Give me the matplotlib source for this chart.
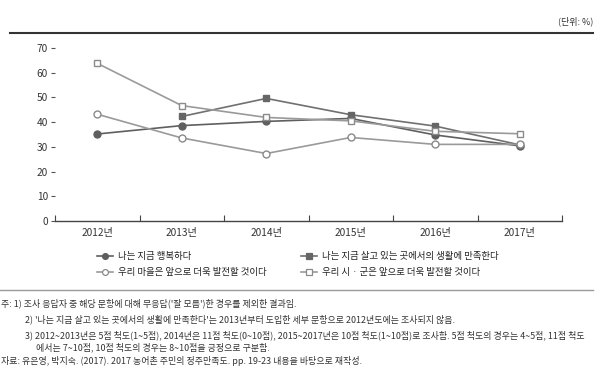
import numpy as np
import matplotlib.pyplot as plt
from matplotlib.lines import Line2D

plt.rcParams['font.family'] = ['Noto Sans CJK KR', 'DejaVu Sans']

years = ['2012년', '2013년', '2014년', '2015년', '2016년', '2017년']
happy = [35.2, 38.6, 40.3, 41.5, 34.8, 30.4]
satisfied = [np.nan, 42.3, 49.6, 43.0, 38.4, 30.8]
village = [43.2, 33.6, 27.3, 33.8, 31.0, 31.0]
city = [63.8, 46.7, 41.9, 40.5, 36.3, 35.3]

labels = ['나는 지금 행복하다', '나는 지금 살고 있는 곳에서의 생활에 만족한다',
          '우리 마을은 앞으로 더욱 발전할 것이다', '우리 시 · 군은 앞으로 더욱 발전할 것이다']
yticks = [0, 10, 20, 30, 40, 50, 60, 70]

notes = [
    (1, 303, '주: 1) 조사 응답자 중 해당 문항에 대해 무응답(\'잘 모름\')한 경우를 제외한 결과임.'),
    (25, 319, '2) \'나는 지금 살고 있는 곳에서의 생활에 만족한다\'는 2013년부터 도입한 세부 문항으로 2012년도에는 조사되지 않음.'),
    (25, 335, '3) 2012~2013년은 5점 척도(1~5점), 2014년은 11점 척도(0~10점), 2015~2017년은 10점 척도(1~10점)로 조사함. 5점 척도의 경우는 4~5점, 11점 척도'),
    (36, 347, '에서는 7~10점, 10점 척도의 경우는 8~10점을 긍정으로 구분함.'),
    (1, 361, '자료: 유은영, 박지숙. (2017). 2017 농어촌 주민의 정주만족도. pp. 19-23 내용을 바탕으로 재작성.'),
]

W, H = 600, 374
fig = plt.figure(figsize=(6, 3.74), dpi=100)
ax = fig.add_axes([55 / W, 1 - 221 / H, (562 - 55) / W, (221 - 48) / H])

x = np.arange(len(years))
styles = [
    dict(color='#5f5f5f', marker='o', mfc='#5f5f5f', mec='#5f5f5f'),
    dict(color='#707070', marker='s', mfc='#666666', mec='#666666'),
    dict(color='#9a9a9a', marker='o', mfc='white', mec='#8a8a8a'),
    dict(color='#9a9a9a', marker='s', mfc='white', mec='#8a8a8a'),
]
handles = []
for s, lab, st in zip([happy, satisfied, village, city], labels, styles):
    ax.plot(x, s, lw=1.2, ms=5, mew=1.0, zorder=3, **st)
    handles.append(Line2D([], [], lw=1.2, ms=4.2, mew=0.9, label=lab, **st))

ax.set_xlim(-0.5, 5.5)
ax.set_ylim(0, 70)
ax.set_yticks(yticks)
ax.set_xticks(x)
ax.set_xticklabels(years)
ax.set_xticks(np.arange(-0.5, 6, 1), minor=True)
for sp in ['top', 'right', 'left']:
    ax.spines[sp].set_visible(False)
ax.spines['bottom'].set_color('#444444')
ax.spines['bottom'].set_linewidth(1.0)
ax.tick_params(axis='y', length=3, width=0.8, color='#555555', labelsize=7.3, pad=2, labelcolor='#333333')
ax.tick_params(axis='x', which='major', length=0, labelsize=7.3, pad=5, labelcolor='#333333')
ax.tick_params(axis='x', which='minor', direction='in', length=4, width=0.8, color='#444444')

# top rule and unit
fig.add_artist(Line2D([10 / W, 593 / W], [1 - 33 / H, 1 - 33 / H], color='#333333', lw=1.5))
fig.text(593 / W, 1 - 21 / H, '(단위: %)', ha='right', va='center', fontsize=6.5, color='#333333')

fig.legend(handles=[handles[0], handles[2], handles[1], handles[3]], ncol=2,
           loc='upper left', bbox_to_anchor=(97 / W, 1 - 252 / H), frameon=False,
           fontsize=6.8, handlelength=1.7, handletextpad=0.55, columnspacing=3.6,
           labelspacing=0.75, borderpad=0, borderaxespad=0, labelcolor='#222222')

fig.add_artist(Line2D([0, 593 / W], [1 - 290 / H, 1 - 290 / H], color='#999999', lw=1.0))

for nx, ny, t in notes:
    fig.text(nx / W, 1 - ny / H, t, ha='left', va='center', fontsize=6.45, color='#333333')

fig.savefig('out.png', dpi=100)
